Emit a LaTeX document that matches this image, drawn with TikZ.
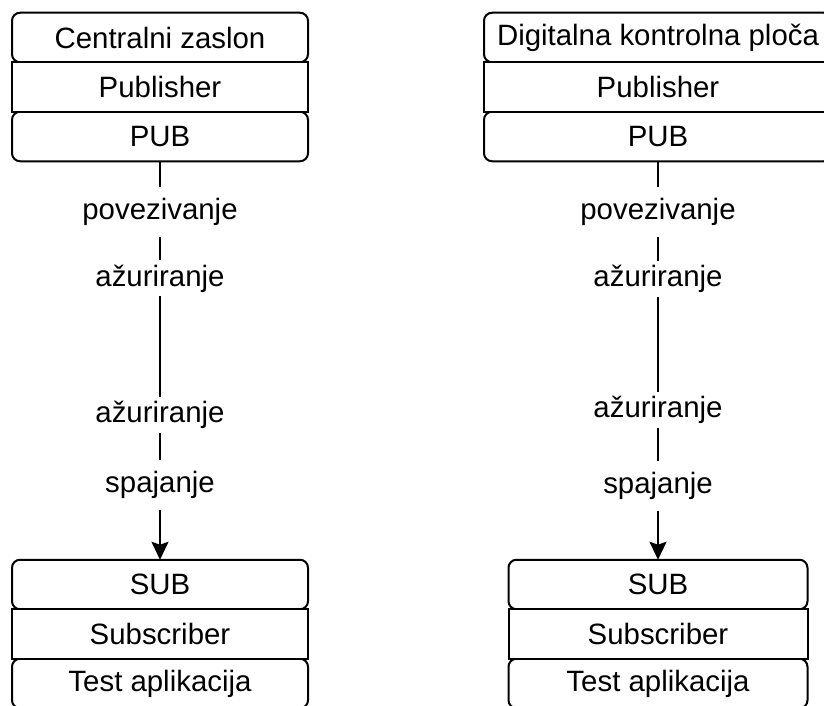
\documentclass[tikz,border=0pt]{standalone}
\usepackage{fontspec}
\setmainfont{Liberation Sans}
\usetikzlibrary{positioning,arrows.meta}

\begin{document}
\begin{tikzpicture}[x=.5pt,y=-.5pt,line width=1pt,
    box/.style={draw,fill=white,minimum height=24.75pt,inner sep=0pt,outer sep=0pt,font=\fontsize{14.7}{17}\selectfont},
    rbox/.style={box,rounded corners=4pt},
    lbl/.style={fill=white,inner xsep=1pt,inner ysep=0pt,minimum height=18pt,font=\fontsize{14.7}{17}\selectfont},
    arr/.style={-{Stealth[width=8.5pt,length=9pt,inset=1.5pt]}}]
    \useasboundingbox (0,0) rectangle (824,706);
    \node[rbox,minimum width=148pt] (zaslon) at (160,37.5) {Centralni zaslon};
    \node[rbox,minimum width=148pt,below=24.75pt of zaslon] (pubL) {PUB};
    \node[box,minimum width=148pt,below=0pt of zaslon] (publisherL) {Publisher};
    \node[rbox,minimum width=148pt] (subL) at (160,584.5) {SUB};
    \node[rbox,minimum width=148pt,below=24.75pt of subL] (testL) {Test aplikacija};
    \node[box,minimum width=148pt,below=0pt of subL] (subscriberL) {Subscriber};
    \node[rbox,minimum width=174pt] (ploca) at (658,37.5) {Digitalna kontrolna ploča};
    \node[rbox,minimum width=174pt,below=24.75pt of ploca] (pubR) {PUB};
    \node[box,minimum width=174pt,below=0pt of ploca] (publisherR) {Publisher};
    \node[rbox,minimum width=149.5pt] (subR) at (658,584.5) {SUB};
    \node[rbox,minimum width=149.5pt,below=24.75pt of subR] (testR) {Test aplikacija};
    \node[box,minimum width=149.5pt,below=0pt of subR] (subscriberR) {Subscriber};
    \draw[arr] (pubL) -- (subL)
        node[lbl,pos=.128,minimum height=25pt] {povezivanje}
        node[lbl,pos=.294] {ažuriranje}
        node[lbl,pos=.637] {ažuriranje}
        node[lbl,pos=.812,minimum height=25pt] {spajanje};
    \draw[arr] (pubR) -- (subR)
        node[lbl,pos=.128,minimum height=25pt] {povezivanje}
        node[lbl,pos=.296] {ažuriranje}
        node[lbl,pos=.624] {ažuriranje}
        node[lbl,pos=.815,minimum height=25pt] {spajanje};
\end{tikzpicture}
\end{document}
